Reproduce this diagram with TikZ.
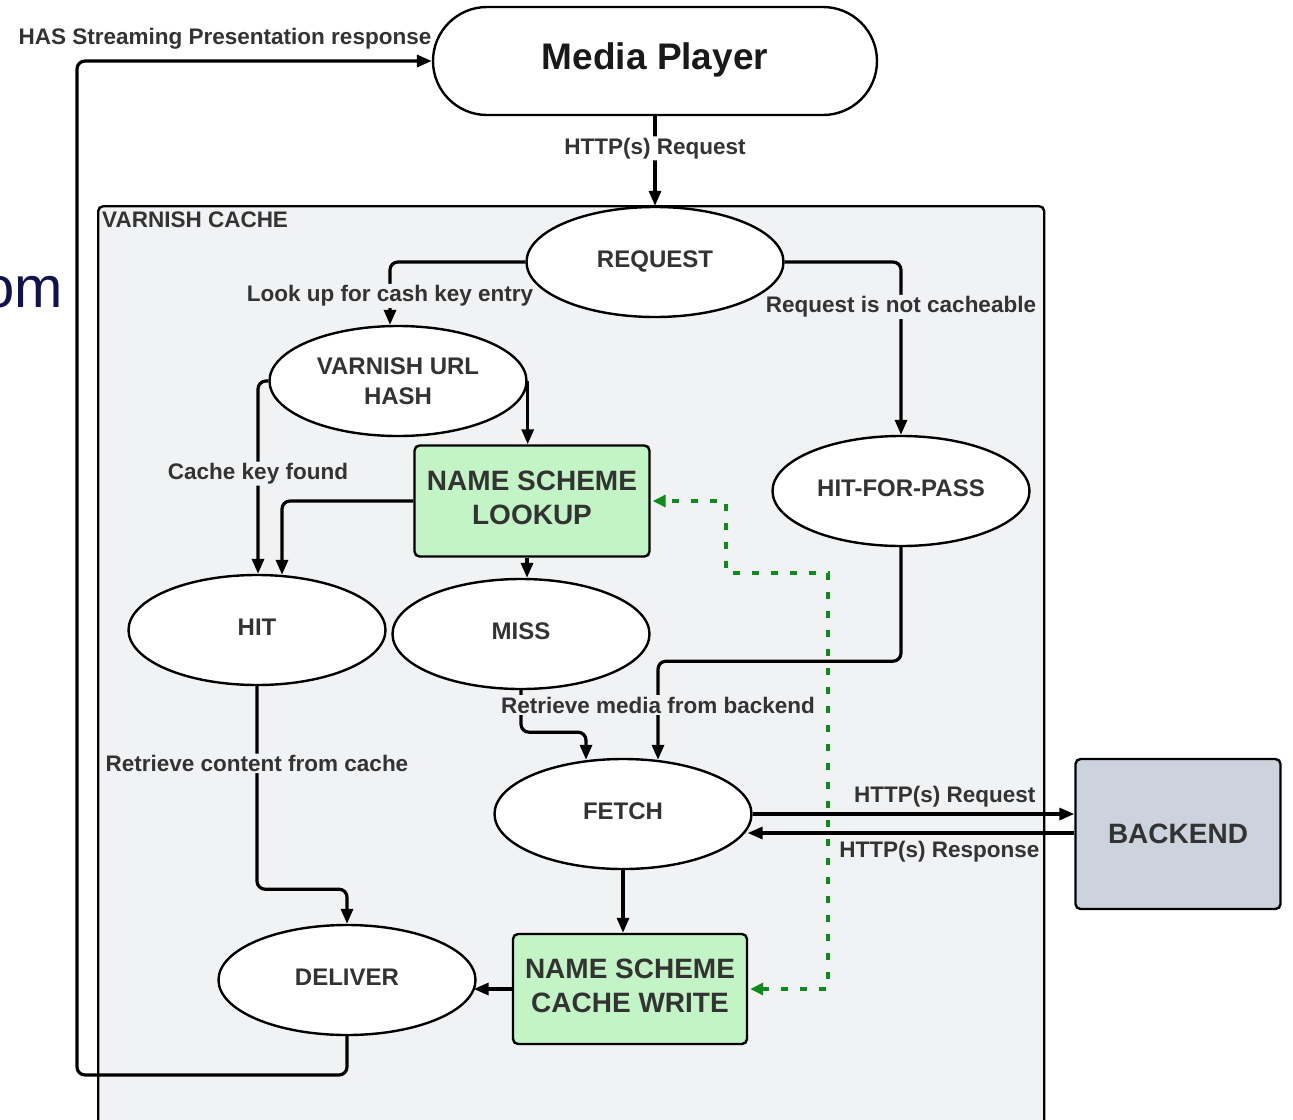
\documentclass[tikz,border=0pt]{standalone}
\usepackage{fontspec}
\setmainfont{Liberation Sans}
\usetikzlibrary{shapes.geometric,arrows.meta,calc}
\definecolor{txt}{HTML}{333333}
\definecolor{boxbg}{HTML}{F1F2F4}
\definecolor{grnfill}{HTML}{C3F4C6}
\definecolor{bkfill}{HTML}{CDD3DD}
\definecolor{gline}{HTML}{0C8C1A}
\definecolor{navy}{HTML}{12124F}
\begin{document}
\begin{tikzpicture}[x=1pt,y=-1pt,
  ell/.style={ellipse, draw=black, line width=2.4pt, fill=white, minimum width=257pt, minimum height=110pt, inner sep=0pt, font=\fontsize{24}{30}\selectfont\bfseries, text=txt, align=center},
  raised/.style={text depth=6pt},
  grnbox/.style={rectangle, rounded corners=5pt, draw=black, line width=2.4pt, fill=grnfill, minimum width=235pt, minimum height=111pt, inner sep=0pt, font=\fontsize{28}{34}\selectfont\bfseries, text=txt, align=center},
  lbl/.style={font=\fontsize{22.5}{26}\selectfont\bfseries, text=txt, inner sep=1.5pt},
  conn/.style={line width=3.2pt, rounded corners=8pt, -{Triangle[length=15pt,width=12pt]}},
  gconn/.style={line width=3.8pt, draw=gline, dash pattern=on 7pt off 12pt, {Triangle[length=13pt,width=12pt,fill=gline]}-{Triangle[length=13pt,width=12pt,fill=gline]}}
]
\useasboundingbox (0,0) rectangle (1293,1119);
\fill[white] (0,0) rectangle (1293,1119);

% cropped text at the left edge
\begin{scope}
\clip (0,0) rectangle (1293,1119);
\node[font=\fontsize{58}{60}\selectfont, text=navy, anchor=base east, inner sep=0pt] (om) at (63,307) {om};
\end{scope}

% Varnish cache container
\node[draw=black, line width=2.4pt, fill=boxbg, rounded corners=5pt, anchor=north west, minimum width=946pt, minimum height=930pt, inner sep=0pt] (vc) at (97,205) {};
\node[font=\fontsize{22.5}{26}\selectfont\bfseries, text=txt, anchor=north west, inner sep=0pt] (vclbl) at (102,212) {VARNISH CACHE};

% main nodes
\node[draw=black, line width=2.4pt, fill=white, rounded corners=54pt, minimum width=444pt, minimum height=108pt, font=\fontsize{37}{40}\selectfont\bfseries, text=black!90, text depth=10pt] (mp) at (655,61) {Media Player};
\node[ell, raised] (req) at (655,262) {REQUEST};
\node[ell] (vuh) at (398,381) {VARNISH URL\\HASH};
\node[grnbox, raised] (nsl) at (532,501) {NAME SCHEME\\LOOKUP};
\node[ell, raised] (hit) at (257,630) {HIT};
\node[ell, raised] (miss) at (521,634) {MISS};
\node[ell, raised] (hfp) at (901,491) {HIT-FOR-PASS};
\node[ell, raised] (fetch) at (623,814) {FETCH};
\node[grnbox, raised, minimum width=234pt, minimum height=110pt] (nscw) at (630,989) {NAME SCHEME\\CACHE WRITE};
\node[ell, raised] (deliver) at (347,980) {DELIVER};
\node[draw=black, line width=2.4pt, fill=bkfill, rounded corners=5pt, minimum width=205pt, minimum height=150pt, font=\fontsize{28}{34}\selectfont\bfseries, text=txt] (backend) at (1178,834) {BACKEND};

% connectors
\draw[conn] (mp.south) -- node[lbl, fill=white, pos=0.36] (l1) {HTTP(s) Request} (req.north);
\draw[conn] (req.west) -| node[lbl, fill=boxbg, pos=0.77] (l2) {Look up for cash key entry} ([xshift=-8pt]vuh.north);
\draw[conn] (vuh.east) -- (vuh.east |- nsl.north);
\draw[conn] (vuh.west) -| node[lbl, fill=boxbg, pos=0.74] (l3) {Cache key found} ([xshift=1pt]hit.north);
\draw[conn] (nsl.west) -| ([xshift=25pt,yshift=-1pt]hit.north);
\draw[conn] ([xshift=-5pt]nsl.south) -- ([xshift=-5pt]nsl.south |- miss.north);
\draw[conn] (req.east) -| node[lbl, fill=boxbg, pos=0.63] (l4) {Request is not cacheable} (hfp.north);
\draw[conn] (hfp.south) -- ++(0,114) -| ([xshift=35pt,yshift=-2pt]fetch.north);
\draw[conn] (miss.south) -- ++(0,42) -| ([xshift=-37pt,yshift=-2pt]fetch.north);
\node[lbl, fill=boxbg] (l5) at (658,705) {Retrieve media from backend};
\draw[conn] (fetch.east) -- (fetch.east -| backend.west);
\draw[conn] (backend.west |- 0,833) -- ($(fetch.east)+(-5,19)$);
\node[lbl, anchor=east] (l6) at (1037,797) {HTTP(s) Request};
\node[lbl, anchor=east] (l7) at (1041,852) {HTTP(s) Response};
\draw[conn] (fetch.south) -- (fetch.south |- nscw.north);
\draw[conn] (nscw.west) -- ($(nscw.west -| deliver.east)+(-3,0)$);
\draw[conn] (hit.south) -- node[lbl, fill=boxbg, pos=0.38] (l8) {Retrieve content from cache} ++(0,203) -| (deliver.north);
\coordinate (ret) at (77,1075);
\draw[conn] (deliver.south) |- (ret) |- (mp.west);
\node[lbl] (l9) at (225,39) {HAS Streaming Presentation response};

% green dotted feedback
\coordinate (g1) at (726,573);
\coordinate (g2) at (828,573);
\draw[gconn] ([xshift=2pt]nscw.east) -| (g2) -- (g1) |- ([xshift=2pt]nsl.east);
\end{tikzpicture}
\end{document}
